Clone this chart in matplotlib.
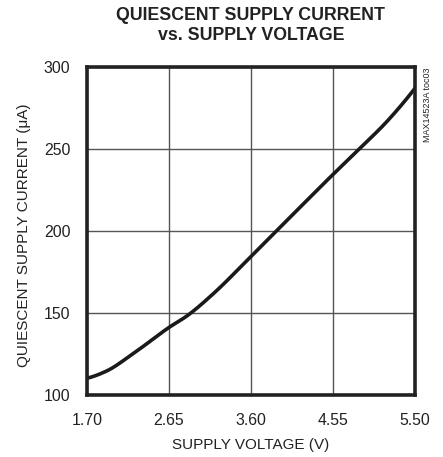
import matplotlib
matplotlib.use("Agg")
import matplotlib.pyplot as plt
from matplotlib import font_manager
import numpy as np

voltage = [1.70, 1.93, 2.20, 2.65, 2.86, 3.16, 3.61, 3.90, 4.56, 4.86, 5.17, 5.50]
current = [110.2, 114.7, 123.9, 141.2, 148.3, 161.6, 185.0, 200.3, 235.0, 250.3, 266.5, 287.0]
xticks = [1.70, 2.65, 3.60, 4.55, 5.50]
xticklabels = ["1.70", "2.65", "3.60", "4.55", "5.50"]
yticks = [100, 150, 200, 250, 300]

names = {f.name for f in font_manager.fontManager.ttflist}
if 'Liberation Sans Narrow' in names:
    fam = ['Liberation Sans Narrow', 'DejaVu Sans']
    k = 1.0
else:
    fam = ['Liberation Sans', 'DejaVu Sans']
    k = 0.88
plt.rcParams['font.family'] = fam

W, H = 443, 457
fig = plt.figure(figsize=(W/100, H/100), dpi=100)
ax = fig.add_axes([87/W, 1-395/H, 328/W, 328/H])

xs = np.linspace(voltage[0], voltage[-1], 300)
try:
    from scipy.interpolate import PchipInterpolator
    ys = PchipInterpolator(voltage, current)(xs)
except Exception:
    ys = np.interp(xs, voltage, current)
ax.plot(xs, ys, color='#1a1a1a', lw=2.6, solid_capstyle='round')

ax.set_xlim(1.70, 5.50)
ax.set_ylim(100, 300)
ax.set_xticks(xticks)
ax.set_xticklabels(xticklabels)
ax.set_yticks(yticks)
ax.grid(True, color='#555555', lw=1.0)
ax.set_axisbelow(True)
ax.tick_params(axis='both', length=0, labelsize=13*k, colors='#222222')
ax.tick_params(axis='y', pad=12)
ax.tick_params(axis='x', pad=13)
for s in ax.spines.values():
    s.set_linewidth(2.6)
    s.set_color('#222222')

fig.text(251/W, 1-445/H, 'SUPPLY VOLTAGE (V)', ha='center', va='center',
         fontsize=12.5*k, color='#222222')
fig.text(24.5/W, 1-235/H, 'QUIESCENT SUPPLY CURRENT (μA)', rotation=90,
         ha='center', va='center', fontsize=12.5*k, color='#222222')

fig.text(251/W, 1-7/H, 'QUIESCENT SUPPLY CURRENT\nvs. SUPPLY VOLTAGE', ha='center', va='top',
         fontsize=14.5*k, fontweight='bold', color='#222222', linespacing=1.25)

fig.text(427/W, 1-68/H, 'MAX14523A toc03', rotation=90, ha='center', va='top',
         fontsize=6.5, color='#222222')

fig.savefig('out.png', dpi=100)
